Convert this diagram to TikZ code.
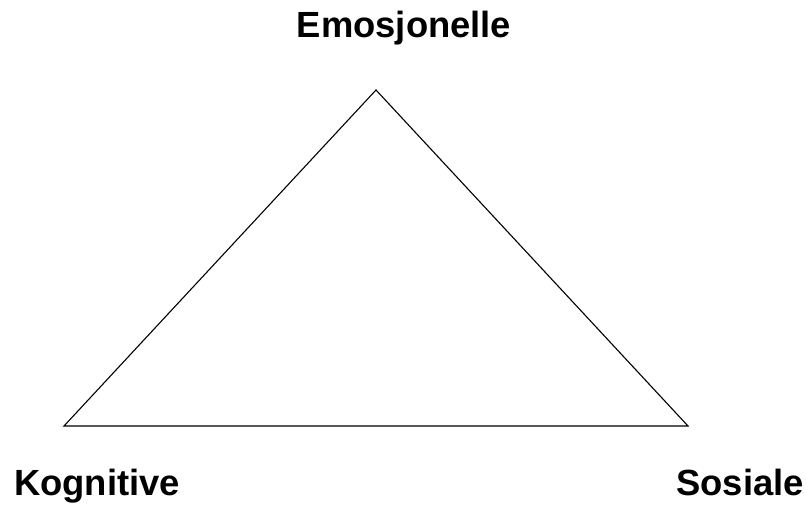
\documentclass[tikz,border=0pt]{standalone}
\usepackage{fontspec}
\setmainfont{Liberation Sans}
\begin{document}
\begin{tikzpicture}[x=1pt,y=-1pt,
  lbl/.style={font=\fontsize{36.4}{42}\selectfont\bfseries, inner sep=0pt},
  edge/.style={draw=black, line width=1.1pt, line join=miter}]
\useasboundingbox[fill=white] (0,0) rectangle (806,504);
\coordinate (top) at (376,90);
\coordinate (bl) at (64,426);
\coordinate (br) at (688,426);
\draw[edge] (top) -- (bl) -- (br) -- cycle;
\node[lbl, anchor=base] (emo) at (404,37) {Emosjonelle};
\node[lbl, anchor=base west] (kog) at (14,495) {Kognitive};
\node[lbl, anchor=base east] (sos) at (804,495) {Sosiale};
\end{tikzpicture}
\end{document}
